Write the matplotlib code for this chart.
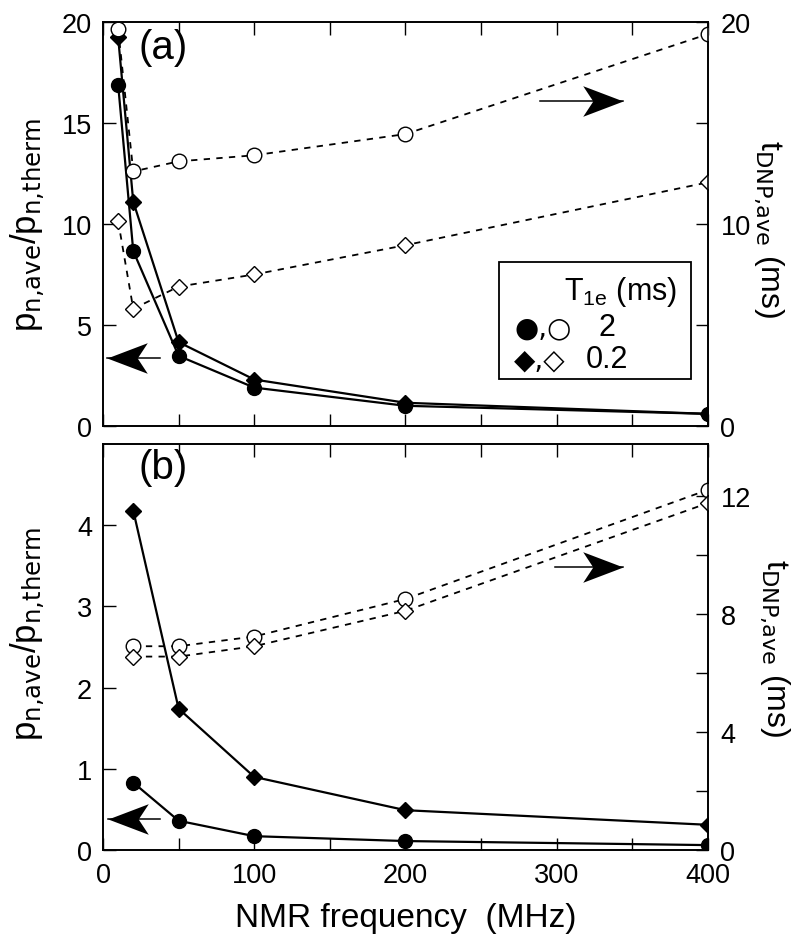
# DNP enhancement / build-up time vs NMR frequency
import matplotlib
matplotlib.use('Agg')
import numpy as np
import matplotlib.pyplot as plt
from matplotlib.path import Path
from matplotlib.patches import Rectangle
from matplotlib.ticker import MultipleLocator

plt.rcParams['font.family'] = ['Liberation Sans', 'DejaVu Sans']
plt.rcParams['mathtext.default'] = 'regular'
plt.rcParams['font.size'] = 20

# ---------------- data ----------------
# (a)
freq_a = [10, 20, 50, 100, 200, 400]
pn_a_2ms = [16.9, 8.66, 3.47, 1.9, 1.0, 0.6]
pn_a_02ms = [19.25, 11.1, 4.15, 2.3, 1.15, 0.6]
tdnp_a_2ms = [19.65, 12.6, 13.1, 13.4, 14.45, 19.4]
tdnp_a_02ms = [10.15, 5.8, 6.9, 7.5, 8.95, 12.06]

# (b)
freq_b = [20, 50, 100, 200, 400]
pn_b_2ms = [0.83, 0.36, 0.17, 0.11, 0.06]
pn_b_02ms = [4.18, 1.74, 0.9, 0.49, 0.31]
tdnp_b_2ms = [6.9, 6.9, 7.23, 8.5, 12.2]
tdnp_b_02ms = [6.55, 6.55, 6.9, 8.1, 11.75]

ylabel_left = r'p$_{\text{n,ave}}$/p$_{\text{n,therm}}$'
ylabel_right = r't$_{\text{DNP,ave}}$ (ms)'

# arrow head as a marker (tip at origin)
head_left = Path([(0, 0), (1, 0.38), (0.75, 0), (1, -0.38), (0, 0)],
                 [Path.MOVETO, Path.LINETO, Path.LINETO, Path.LINETO, Path.CLOSEPOLY])
head_right = Path([(0, 0), (-1, 0.38), (-0.75, 0), (-1, -0.38), (0, 0)],
                  [Path.MOVETO, Path.LINETO, Path.LINETO, Path.LINETO, Path.CLOSEPOLY])


def arrow(ax, x0, x1, y, head):
    ax.plot([x0, x1], [y, y], color='k', lw=1.1, zorder=5)
    ax.plot([x1], [y], marker=head, ms=58, color='k', mec='k', mew=0,
            linestyle='none', zorder=5)


def style(ax):
    ax.set_xlim(0, 400)
    ax.xaxis.set_major_locator(MultipleLocator(50))
    ax.tick_params(axis='both', which='both', direction='in', length=9,
                   width=1.0, top=True, pad=8, labelsize=19.5)
    ax.tick_params(axis='x', pad=9)
    for s in ax.spines.values():
        s.set_linewidth(1.2)


fig = plt.figure(figsize=(8.06, 9.37), dpi=100)
ax1 = fig.add_axes([0.1278, 0.5443, 0.7506, 0.4312])
ax2 = fig.add_axes([0.1278, 0.0918, 0.7506, 0.4333])

solid = dict(color='k', lw=1.6, mec='k', mfc='k', zorder=3)
dash = dict(color='k', lw=1.3, linestyle=(0, (3.5, 3.5)), mec='k', mfc='white',
            mew=1.0, zorder=2)

##############################################################################
# (a)
##############################################################################
ax1r = ax1.twinx()
ax1.plot(freq_a, pn_a_2ms, marker='o', ms=10, **solid)
ax1.plot(freq_a, pn_a_02ms, marker='D', ms=8, **solid)
ax1r.plot(freq_a, tdnp_a_2ms, marker='o', ms=10.5, **dash)
ax1r.plot(freq_a, tdnp_a_02ms, marker='D', ms=8, **dash)

for a in (ax1, ax1r):
    style(a)
    a.set_ylim(0, 20)
ax1.yaxis.set_major_locator(MultipleLocator(5))
ax1.tick_params(labelbottom=False)
ax1r.yaxis.set_major_locator(MultipleLocator(10))
ax1r.yaxis.set_minor_locator(MultipleLocator(5))
ax1r.tick_params(axis='y', which='both', direction='in', length=9, pad=9)

ax1.set_ylabel(ylabel_left, fontsize=25)
ax1.yaxis.set_label_coords(-0.093, 0.5)
ax1r.set_ylabel(ylabel_right, fontsize=23, rotation=270, va='center')
ax1r.yaxis.set_label_coords(1.1, 0.49)

ax1.text(0.058, 0.985, '(a)', transform=ax1.transAxes, fontsize=29,
         ha='left', va='top')

arrow(ax1, 37.7, 2.6, 3.37, head_left)
arrow(ax1, 289, 344, 16.1, head_right)

# legend box
ax1.add_patch(Rectangle((0.655, 0.116), 0.317, 0.29, transform=ax1.transAxes,
                        fill=False, lw=1.3, ec='k', zorder=6))
ax1.text(0.762, 0.335, 'T$_{1e}$ (ms)', transform=ax1.transAxes, fontsize=22,
         ha='left', va='center', zorder=7)
ax1.text(0.68, 0.245, '●,○', transform=ax1.transAxes, fontsize=20,
         ha='left', va='center', family=['DejaVu Sans'], zorder=7)
ax1.text(0.833, 0.245, '2', transform=ax1.transAxes, fontsize=22,
         ha='center', va='center', zorder=7)
ax1.text(0.68, 0.165, '◆,◇', transform=ax1.transAxes, fontsize=20,
         ha='left', va='center', family=['DejaVu Sans'], zorder=7)
ax1.text(0.833, 0.165, '0.2', transform=ax1.transAxes, fontsize=22,
         ha='center', va='center', zorder=7)

##############################################################################
# (b)
##############################################################################
ax2r = ax2.twinx()
ax2.plot(freq_b, pn_b_2ms, marker='o', ms=10, **solid)
ax2.plot(freq_b, pn_b_02ms, marker='D', ms=8, **solid)
ax2r.plot(freq_b, tdnp_b_2ms, marker='o', ms=10.5, **dash)
ax2r.plot(freq_b, tdnp_b_02ms, marker='D', ms=8, **dash)

for a in (ax2, ax2r):
    style(a)
ax2.set_ylim(0, 5)
ax2.set_yticks([0, 1, 2, 3, 4])
ax2.set_xticks([0, 100, 200, 300, 400])
ax2.xaxis.set_minor_locator(MultipleLocator(50))
ax2r.set_ylim(0, 13.75)
ax2r.yaxis.set_major_locator(MultipleLocator(4))
ax2r.yaxis.set_minor_locator(MultipleLocator(2))
ax2r.tick_params(axis='y', which='both', direction='in', length=9, pad=9)

ax2.set_xlabel('NMR frequency  (MHz)', fontsize=24, labelpad=10)
ax2.set_ylabel(ylabel_left, fontsize=25)
ax2.yaxis.set_label_coords(-0.093, 0.535)
ax2r.set_ylabel(ylabel_right, fontsize=23, rotation=270, va='center')
ax2r.yaxis.set_label_coords(1.11, 0.5)

ax2.text(0.058, 0.99, '(b)', transform=ax2.transAxes, fontsize=29,
         ha='left', va='top')

arrow(ax2, 37.7, 3.3, 0.38, head_left)
arrow(ax2, 299, 344, 3.48, head_right)

plt.savefig('out.png', dpi=100)
